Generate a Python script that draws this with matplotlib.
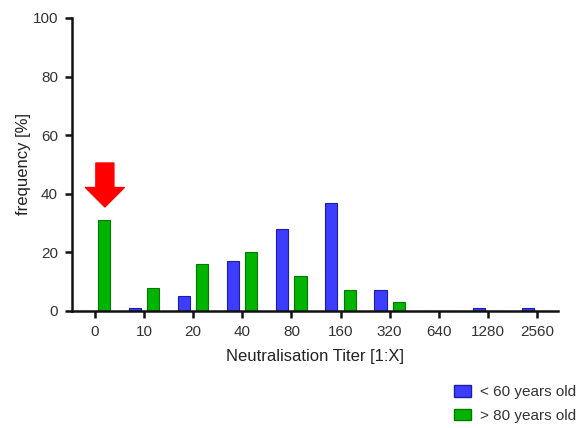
import matplotlib.pyplot as plt
from matplotlib.patches import Patch

plt.rcParams['font.family'] = ['Liberation Sans', 'DejaVu Sans']

titers = ['0', '10', '20', '40', '80', '160', '320', '640', '1280', '2560']
under_60 = [0, 1, 5, 17, 28, 37, 7, 0, 1, 1]
over_80 = [31, 8, 16, 20, 12, 7, 3, 0, 0, 0]

blue = '#3d3dff'
blue_edge = '#1c1ca8'
green = '#00b400'
green_edge = '#007a00'

fig = plt.figure(figsize=(5.82, 4.28), dpi=100)
ax = fig.add_axes([0.1237, 0.2734, 0.835, 0.6846])

x = list(range(len(titers)))
w = 0.245
off = 0.185
ax.bar([i - off for i in x], under_60, width=w, color=blue, edgecolor=blue_edge, linewidth=0.8)
ax.bar([i + off for i in x], over_80, width=w, color=green, edgecolor=green_edge, linewidth=0.8)

ax.set_xlim(-0.47, 9.43)
ax.set_ylim(0, 100)
ax.set_xticks(x)
ax.set_xticklabels(titers)
ax.set_yticks([0, 20, 40, 60, 80, 100])

for s in ['top', 'right']:
    ax.spines[s].set_visible(False)
for s in ['left', 'bottom']:
    ax.spines[s].set_linewidth(1.8)
    ax.spines[s].set_color('#111111')
ax.tick_params(direction='out', length=5, width=1.8, color='#111111',
               labelsize=11, labelcolor='#333333', pad=5)

ax.set_xlabel('Neutralisation Titer [1:X]', fontsize=12, color='#222222', labelpad=7)
ax.set_ylabel('frequency [%]', fontsize=12, color='#222222', labelpad=1)

# red arrow pointing at the 0 group
ax.annotate('', xy=(0.2, 35.5), xytext=(0.2, 50.5),
            arrowprops=dict(arrowstyle='simple,head_width=2.8,head_length=1.4,tail_width=1.3',
                            color='#ff0000', shrinkA=0, shrinkB=0))

handles = [Patch(facecolor=blue, edgecolor=blue_edge, label='< 60 years old'),
           Patch(facecolor=green, edgecolor=green_edge, label='> 80 years old')]
fig.legend(handles=handles, loc='lower right', bbox_to_anchor=(0.995, 0.005),
           frameon=False, fontsize=11, labelcolor='#333333', borderaxespad=0, borderpad=0.2,
           handlelength=1.1, handleheight=0.8, handletextpad=0.6, labelspacing=0.6)

fig.savefig('out.png', dpi=100)
